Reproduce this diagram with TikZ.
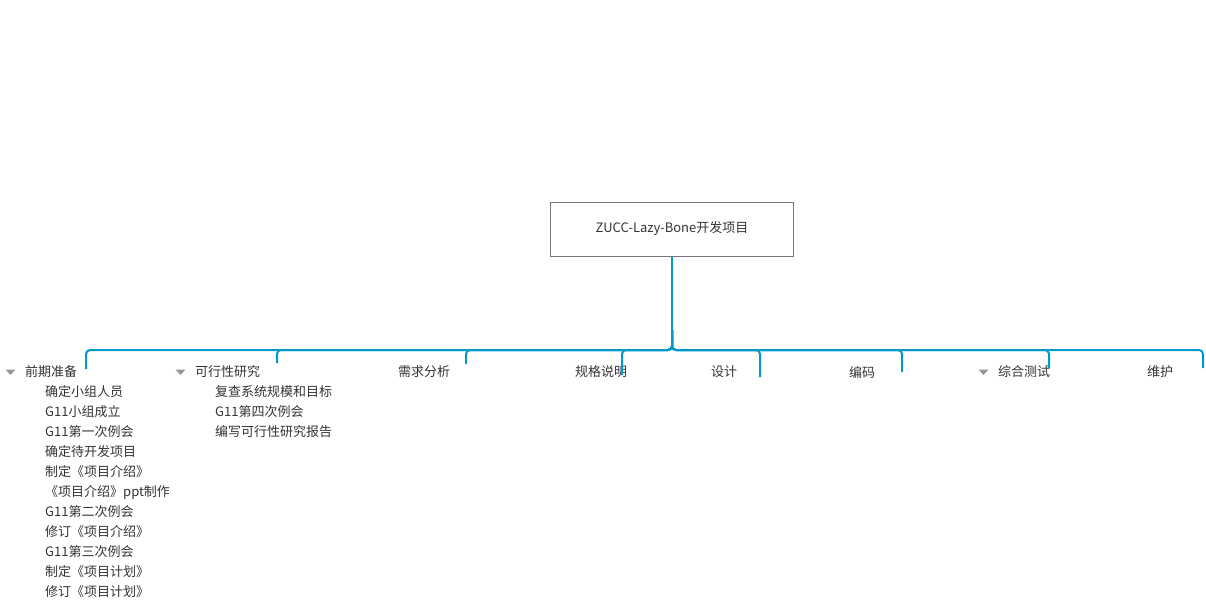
\documentclass[tikz,border=0pt]{standalone}
\usepackage{fontspec}
\setmainfont{Noto Sans CJK SC}
\begin{document}
\begin{tikzpicture}[x=1pt,y=-1pt,
  lbl/.style={anchor=west,inner sep=0pt,text=txt,font=\fontsize{13pt}{15pt}\selectfont},
  conn/.style={draw=link,line width=2pt,rounded corners=4pt},
  tri/.style={fill=trig,draw=none}]
\definecolor{link}{RGB}{0,153,204}
\definecolor{txt}{RGB}{51,51,51}
\definecolor{trig}{RGB}{150,150,150}
\definecolor{boxc}{RGB}{120,120,120}
\useasboundingbox (0,0) rectangle (1206,603);
\node[draw=boxc,line width=1pt,minimum width=243pt,minimum height=54pt,inner sep=0pt,text=txt,font=\fontsize{13pt}{15pt}\selectfont] (root) at (672,229) {ZUCC-Lazy-Bone开发项目};
\coordinate (j) at (root.south |- 0,350);
% children labels
\node[lbl] (c1) at (25,372) {前期准备};
\node[lbl] (c2) at (195,372) {可行性研究};
\node[lbl] (c3) at (398,372) {需求分析};
\node[lbl] (c4) at (575,372) {规格说明};
\node[lbl] (c5) at (711,372) {设计};
\node[lbl] (c6) at (849,372) {编码};
\node[lbl] (c7) at (998,372) {综合测试};
\node[lbl] (c8) at (1147,372) {维护};
% connector ends
\coordinate (e1) at (86,369);
\coordinate (e2) at (277,363);
\coordinate (e3) at (466,364);
\coordinate (e4) at (622,375);
\coordinate (e5) at (760,377);
\coordinate (e6) at (902,372);
\coordinate (e7) at (1049,368);
\coordinate (e8) at (1203,368);
\draw[conn] (root.south) -- ([yshift=10pt]j);
\foreach \e in {e1,e2,e3,e4,e5,e6,e7,e8}{
  \draw[conn] ([yshift=20pt]j) -- (j) -| (\e);
}
% collapse triangles
\fill[trig] (5.5,369.5) -- (15.5,369.5) -- (10.5,375) -- cycle;
\fill[trig] (175.5,369.5) -- (185.5,369.5) -- (180.5,375) -- cycle;
\fill[trig] (978.5,369.5) -- (988.5,369.5) -- (983.5,375) -- cycle;
% sub items column 1
\node[lbl] (s1) at (45,392) {确定小组人员};
\node[lbl] (s2) at (45,412) {G11小组成立};
\node[lbl] (s3) at (45,432) {G11第一次例会};
\node[lbl] (s4) at (45,452) {确定待开发项目};
\node[lbl] (s5) at (45,472) {制定《项目介绍》};
\node[lbl] (s6) at (45,492) {《项目介绍》ppt制作};
\node[lbl] (s7) at (45,512) {G11第二次例会};
\node[lbl] (s8) at (45,532) {修订《项目介绍》};
\node[lbl] (s9) at (45,552) {G11第三次例会};
\node[lbl] (s10) at (45,572) {制定《项目计划》};
\node[lbl] (s11) at (45,592) {修订《项目计划》};
% sub items column 2
\node[lbl] (t1) at (215,392) {复查系统规模和目标};
\node[lbl] (t2) at (215,412) {G11第四次例会};
\node[lbl] (t3) at (215,432) {编写可行性研究报告};
\end{tikzpicture}
\end{document}
